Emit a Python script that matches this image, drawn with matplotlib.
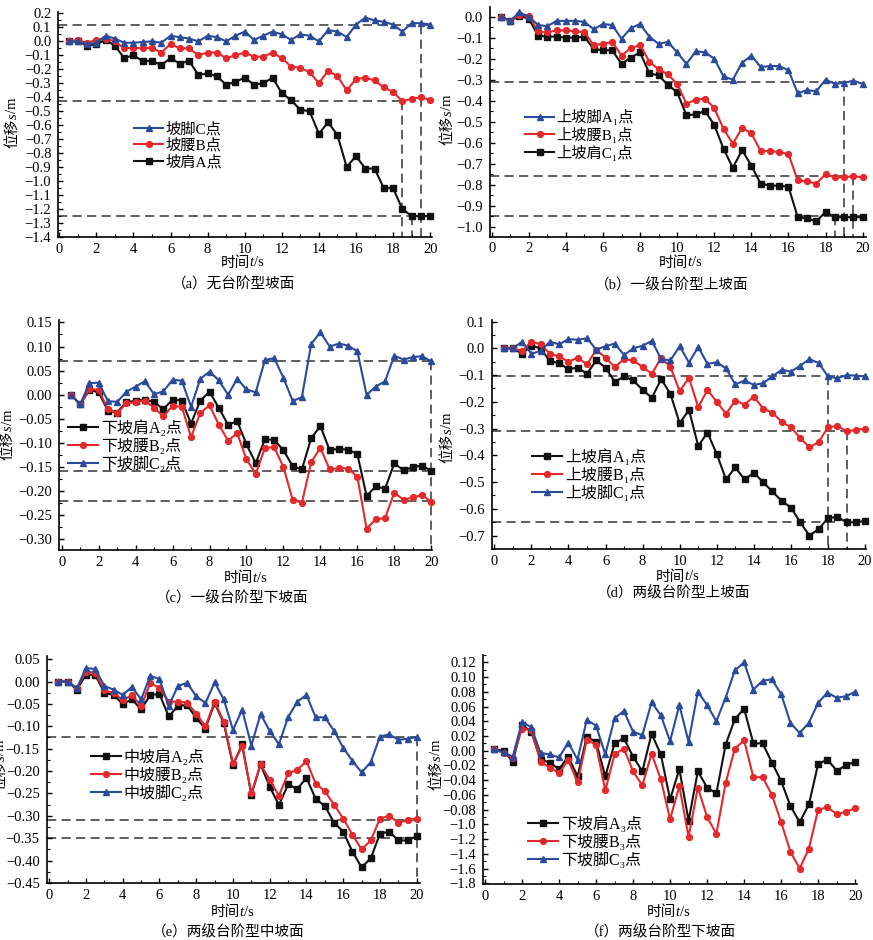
import matplotlib
matplotlib.use("Agg")
import matplotlib.pyplot as plt
from matplotlib.ticker import MultipleLocator, FixedLocator, FixedFormatter, FuncFormatter

plt.rcParams['font.family'] = ['Liberation Serif', 'Noto Sans CJK SC']

W, H = 873, 940
BLUE = '#2a4a9c'
RED = '#e3292b'
BLACK = '#111111'
DASH = '#333333'

t = [0.5, 1.0, 1.5, 2.0, 2.5, 3.0, 3.5, 4.0, 4.5, 5.0,
     5.5, 6.0, 6.5, 7.0, 7.5, 8.0, 8.5, 9.0, 9.5, 10.0,
     10.5, 11.0, 11.5, 12.0, 12.5, 13.0, 13.5, 14.0, 14.5, 15.0,
     15.5, 16.0, 16.5, 17.0, 17.5, 18.0, 18.5, 19.0, 19.5, 20.0]

# (a) 无台阶型坡面
a_C = [0.0, 0.0, -0.02, -0.01, 0.04, 0.02, -0.01, -0.01, -0.005, 0.0,
       -0.01, 0.04, 0.03, 0.02, 0.0, 0.04, 0.03, 0.0, 0.04, 0.07,
       0.01, 0.04, 0.07, 0.05, 0.01, 0.05, 0.04, 0.0, 0.08, 0.07,
       0.03, 0.12, 0.17, 0.15, 0.14, 0.12, 0.07, 0.13, 0.13, 0.12]
a_B = [0.0, 0.01, -0.01, 0.01, 0.02, 0.0, -0.05, -0.045, -0.05, -0.045,
       -0.08, -0.02, -0.05, -0.05, -0.10, -0.08, -0.08, -0.12, -0.10, -0.08,
       -0.11, -0.11, -0.08, -0.12, -0.18, -0.19, -0.22, -0.30, -0.21, -0.25,
       -0.35, -0.27, -0.26, -0.28, -0.33, -0.36, -0.43, -0.41, -0.40, -0.42]
a_A = [0.0, 0.0, -0.03, -0.02, 0.01, -0.03, -0.12, -0.10, -0.14, -0.14,
       -0.17, -0.12, -0.16, -0.14, -0.24, -0.23, -0.25, -0.31, -0.29, -0.26,
       -0.31, -0.30, -0.26, -0.37, -0.42, -0.49, -0.50, -0.66, -0.58, -0.67,
       -0.90, -0.82, -0.91, -0.91, -1.05, -1.05, -1.20, -1.25, -1.25, -1.25]

# (b) 一级台阶型上坡面
b_A1 = [0.0, -0.02, 0.02, 0.0, -0.04, -0.045, -0.02, -0.02, -0.02, -0.025,
        -0.06, -0.035, -0.04, -0.105, -0.055, -0.035, -0.095, -0.13, -0.12, -0.17,
        -0.225, -0.165, -0.17, -0.20, -0.285, -0.30, -0.22, -0.185, -0.24, -0.235,
        -0.235, -0.255, -0.365, -0.35, -0.355, -0.30, -0.32, -0.315, -0.305, -0.32]
b_B1 = [0.0, -0.02, 0.01, 0.005, -0.07, -0.075, -0.065, -0.065, -0.07, -0.075,
        -0.135, -0.13, -0.12, -0.185, -0.15, -0.135, -0.215, -0.25, -0.275, -0.32,
        -0.415, -0.395, -0.39, -0.435, -0.535, -0.605, -0.53, -0.555, -0.64, -0.64,
        -0.645, -0.655, -0.78, -0.785, -0.795, -0.75, -0.765, -0.765, -0.76, -0.765]
b_C1 = [0.0, -0.02, 0.005, -0.01, -0.09, -0.095, -0.095, -0.10, -0.10, -0.095,
        -0.155, -0.16, -0.16, -0.225, -0.195, -0.17, -0.27, -0.28, -0.325, -0.36,
        -0.47, -0.465, -0.45, -0.515, -0.63, -0.72, -0.635, -0.71, -0.795, -0.805,
        -0.805, -0.81, -0.955, -0.96, -0.975, -0.93, -0.955, -0.955, -0.955, -0.955]

# (c) 一级台阶型下坡面
c_A2 = [0.0, -0.02, 0.01, 0.005, -0.033, -0.037, -0.015, -0.013, -0.01, -0.015,
        -0.03, -0.01, -0.012, -0.06, -0.012, 0.006, -0.027, -0.062, -0.055, -0.103,
        -0.142, -0.092, -0.094, -0.115, -0.148, -0.155, -0.09, -0.065, -0.115, -0.112,
        -0.114, -0.123, -0.21, -0.19, -0.195, -0.142, -0.157, -0.15, -0.147, -0.158]
c_B2 = [0.0, -0.02, 0.012, 0.01, -0.03, -0.038, -0.018, -0.015, -0.012, -0.027,
        -0.045, -0.023, -0.025, -0.088, -0.038, -0.022, -0.062, -0.095, -0.08, -0.134,
        -0.164, -0.11, -0.109, -0.15, -0.218, -0.224, -0.14, -0.11, -0.155, -0.152,
        -0.153, -0.17, -0.278, -0.258, -0.256, -0.203, -0.218, -0.213, -0.208, -0.222]
c_C2 = [0.0, -0.02, 0.024, 0.025, -0.013, -0.015, 0.006, 0.017, 0.028, 0.001,
        0.007, 0.031, 0.029, -0.025, 0.033, 0.048, 0.03, 0.0, 0.033, 0.011,
        0.005, 0.072, 0.076, 0.035, -0.013, -0.005, 0.105, 0.13, 0.10, 0.106,
        0.102, 0.09, 0.0, 0.017, 0.028, 0.081, 0.073, 0.078, 0.08, 0.069]

# (d) 两级台阶型上坡面
d_A1 = [0.0, 0.0, -0.02, 0.01, 0.0, -0.048, -0.055, -0.078, -0.072, -0.095,
        -0.045, -0.072, -0.125, -0.105, -0.12, -0.155, -0.185, -0.115, -0.17, -0.28,
        -0.23, -0.365, -0.315, -0.395, -0.49, -0.445, -0.49, -0.465, -0.50, -0.535,
        -0.57, -0.595, -0.65, -0.70, -0.675, -0.635, -0.63, -0.65, -0.65, -0.645]
d_B1 = [0.0, 0.0, -0.01, 0.025, 0.015, -0.02, -0.03, -0.05, -0.035, -0.06,
        -0.005, -0.035, -0.07, -0.04, -0.045, -0.07, -0.095, -0.035, -0.07, -0.16,
        -0.11, -0.22, -0.155, -0.20, -0.245, -0.195, -0.21, -0.18, -0.225, -0.24,
        -0.275, -0.295, -0.335, -0.37, -0.35, -0.295, -0.29, -0.31, -0.305, -0.30]
d_C1 = [0.0, 0.0, 0.025, -0.02, -0.01, 0.025, 0.015, 0.035, 0.032, 0.038,
        -0.005, 0.008, 0.018, -0.025, 0.0, 0.01, 0.028, -0.04, -0.045, 0.008,
        -0.053, 0.005, -0.058, -0.052, -0.075, -0.135, -0.12, -0.137, -0.13, -0.105,
        -0.08, -0.087, -0.065, -0.04, -0.055, -0.105, -0.112, -0.10, -0.102, -0.105]

# (e) 两级台阶型中坡面
e_A2 = [0.0, 0.0, -0.018, 0.015, 0.015, -0.025, -0.03, -0.05, -0.04, -0.062,
        -0.03, -0.028, -0.078, -0.055, -0.052, -0.082, -0.105, -0.048, -0.093, -0.187,
        -0.14, -0.253, -0.185, -0.235, -0.276, -0.23, -0.24, -0.215, -0.262, -0.278,
        -0.315, -0.335, -0.38, -0.415, -0.395, -0.34, -0.335, -0.355, -0.355, -0.345]
e_B2 = [0.0, 0.0, -0.015, 0.022, 0.02, -0.02, -0.025, -0.042, -0.03, -0.055,
        -0.003, -0.015, -0.045, -0.045, -0.047, -0.072, -0.10, -0.045, -0.09, -0.183,
        -0.145, -0.25, -0.185, -0.22, -0.255, -0.205, -0.197, -0.178, -0.228, -0.245,
        -0.275, -0.306, -0.342, -0.375, -0.355, -0.306, -0.30, -0.315, -0.31, -0.306]
e_C2 = [0.0, 0.0, -0.015, 0.03, 0.028, -0.01, -0.018, -0.03, -0.012, -0.04,
        0.013, 0.005, -0.055, -0.01, -0.003, -0.033, -0.048, -0.002, -0.04, -0.108,
        -0.063, -0.143, -0.073, -0.11, -0.14, -0.08, -0.045, -0.03, -0.08, -0.08,
        -0.11, -0.148, -0.177, -0.203, -0.18, -0.123, -0.118, -0.13, -0.128, -0.124]

# (f) 两级台阶型下坡面
f_A3 = [0.002, 0.0, -0.015, 0.035, 0.026, -0.012, -0.016, -0.025, -0.008, -0.035,
        0.019, 0.012, -0.035, 0.01, 0.017, -0.008, -0.028, 0.023, -0.005, -0.066,
        -0.025, -0.095, -0.028, -0.05, -0.058, 0.008, 0.043, 0.057, 0.01, 0.01,
        -0.016, -0.041, -0.075, -0.097, -0.073, -0.018, -0.012, -0.027, -0.02, -0.015]
f_B3 = [0.002, -0.003, -0.01, 0.03, 0.028, -0.015, -0.023, -0.03, -0.013, -0.043,
        0.015, 0.008, -0.054, -0.005, 0.003, -0.028, -0.047, -0.004, -0.039, -0.093,
        -0.048, -0.117, -0.05, -0.09, -0.113, -0.044, 0.003, 0.014, -0.036, -0.036,
        -0.06, -0.097, -0.137, -0.16, -0.133, -0.08, -0.077, -0.086, -0.083, -0.078]
f_C3 = [0.002, -0.002, -0.008, 0.039, 0.032, -0.003, -0.005, -0.009, 0.011, -0.012,
        0.042, 0.034, -0.005, 0.044, 0.054, 0.026, 0.021, 0.066, 0.048, 0.013,
        0.062, 0.012, 0.08, 0.062, 0.04, 0.072, 0.109, 0.12, 0.083, 0.095,
        0.097, 0.077, 0.038, 0.024, 0.038, 0.065, 0.079, 0.072, 0.074, 0.08]
f_yticks = [0.12, 0.10, 0.08, 0.06, 0.04, 0.02, 0.00, -0.02, -0.04, -0.06, -0.08,
            -0.10, -0.12, -0.14, -0.16, -0.18]
f_ylabels = ['0.12', '0.10', '0.08', '0.06', '0.04', '0.02', '0.00', '\u22120.02',
             '\u22120.04', '\u22120.06', '\u22120.08', '\u22121.0', '\u22121.2',
             '\u22121.4', '\u22121.6', '\u22121.8']

# reference dashed guides: (value, x_end) and (x, y_start)
a_h = [(0.12, 20.0), (-0.43, 18.5), (-1.25, 20.0)]
a_v = [(18.5, -0.43), (19.0, -1.25), (19.5, 0.12)]
b_h = [(-0.31, 19.0), (-0.76, 19.5), (-0.95, 20.0)]
b_v = [(19.0, -0.31), (19.5, -0.76), (18.5, -0.95)]
c_h = [(0.07, 20.0), (-0.158, 20.0), (-0.22, 20.0)]
c_v = [(20.0, 0.07)]
d_h = [(-0.105, 20.0), (-0.31, 19.0), (-0.65, 18.5)]
d_v = [(18.0, -0.105), (19.0, -0.31)]
e_h = [(-0.125, 20.0), (-0.31, 20.0), (-0.35, 20.0)]
e_v = [(20.0, -0.125)]

fig = plt.figure(figsize=(W / 100, H / 100), dpi=100)
renderer = fig.canvas.get_renderer()


def add_ax(l, tp, r, b):
    return fig.add_axes([l / W, 1 - b / H, (r - l) / W, (b - tp) / H])


def style(ax, xlim, ylim, ymaj, ymin, fmt):
    ax.set_xlim(*xlim)
    ax.set_ylim(*ylim)
    for s in ['top', 'right']:
        ax.spines[s].set_visible(False)
    for s in ['left', 'bottom']:
        ax.spines[s].set_linewidth(1.2)
    ax.xaxis.set_major_locator(MultipleLocator(2))
    ax.xaxis.set_minor_locator(MultipleLocator(1))
    if ymaj is not None:
        ax.yaxis.set_major_locator(MultipleLocator(ymaj))
        ax.yaxis.set_minor_locator(MultipleLocator(ymin))
        ax.yaxis.set_major_formatter(
            FuncFormatter(lambda v, p: (fmt % v).replace('-', '\u2212')
                          if abs(v) > 1e-9 else fmt % 0))
    ax.tick_params(which='major', direction='in', length=3.5, width=1.0,
                   labelsize=10.5, pad=4)
    ax.tick_params(which='minor', direction='in', length=2, width=0.8)
    ax.tick_params(axis='y', pad=5)
    ax.set_facecolor('none')


def series(ax, y, color, marker, label, ms):
    ax.plot(t, y, color=color, marker=marker, markersize=ms, lw=1.5, label=label,
            clip_on=False)


def guides(ax, hs, vs, x0, ybot):
    for yv, xe in hs:
        ax.plot([x0, xe], [yv, yv], color=DASH, lw=1.1, ls=(0, (6, 3.5)), zorder=1)
    for xv, ys in vs:
        ax.plot([xv, xv], [ys, ybot], color=DASH, lw=1.1, ls=(0, (6, 3.5)), zorder=1)


def legend(ax, order, x, y, fs):
    handles, labels = ax.get_legend_handles_labels()
    hh = [handles[i] for i in order]
    ll = [labels[i] for i in order]
    ax.legend(hh, ll, loc='upper left', bbox_to_anchor=(x / W, 1 - y / H),
              bbox_transform=fig.transFigure, frameon=False, fontsize=fs,
              borderpad=0, borderaxespad=0, handlelength=1.9, handletextpad=0.15,
              labelspacing=0.12)


def ftext(x, y, s, fs):
    fig.text(x / W, 1 - y / H, s, fontsize=fs, ha='center', va='center')


def rich(x, y, pieces, fs, vertical=False):
    """Draw text pieces [(str, italic)] centred at pixel (x, y)."""
    objs = []
    sizes = []
    for s, it in pieces:
        o = fig.text(0, 0, s, fontsize=fs, style='italic' if it else 'normal',
                     rotation=90 if vertical else 0, ha='left', va='center')
        bb = o.get_window_extent(renderer)
        objs.append(o)
        sizes.append(bb.height if vertical else bb.width)
    total = sum(sizes)
    pos = -total / 2
    for o, sz in zip(objs, sizes):
        if vertical:
            o.set_ha('center')
            o.set_va('bottom')
            o.set_position((x / W, (H - y + pos) / H))
        else:
            o.set_position(((x + pos) / W, 1 - y / H))
        pos += sz


YL = [('位移', False), ('s', True), ('/m', False)]
XL = [('时间', False), ('t', True), ('/s', False)]

# ---- (a)
ax = add_ax(58.3, 12, 432, 237)
style(ax, (-0.05, 20.1), (-1.4, 0.21), 0.1, 0.05, '%.1f')
guides(ax, a_h, a_v, -0.05, -1.4)
series(ax, a_A, BLACK, 's', '坡肩A点', 3.8)
series(ax, a_B, RED, 'o', '坡腰B点', 4.2)
series(ax, a_C, BLUE, '^', '坡脚C点', 4.2)
legend(ax, [2, 1, 0], 134, 122, 11)
rich(13, 123, YL, 10.5, True)
rich(242, 263, XL, 10.5)
ftext(234, 285, '（a）无台阶型坡面', 10.5)

# ---- (b)
ax = add_ax(490, 7, 866, 236.7)
style(ax, (-0.09, 20.18), (-1.048, 0.046), 0.1, 0.05, '%.1f')
guides(ax, b_h, b_v, -0.09, -1.048)
series(ax, b_C1, BLACK, 's', '上坡肩C\u2081点', 3.8)
series(ax, b_B1, RED, 'o', '上坡腰B\u2081点', 4.2)
series(ax, b_A1, BLUE, '^', '上坡脚A\u2081点', 4.2)
legend(ax, [2, 1, 0], 525, 109, 11)
rich(448, 120, YL, 10.5, True)
rich(680, 263, XL, 10.5)
ftext(672, 285, '（b）一级台阶型上坡面', 10.5)

# ---- (c)
ax = add_ax(59.3, 320, 432, 550)
style(ax, (-0.13, 20.04), (-0.322, 0.155), 0.05, 0.025, '%.2f')
guides(ax, c_h, c_v, -0.13, -0.322)
series(ax, c_A2, BLACK, 's', '下坡肩A\u2082点', 3.8)
series(ax, c_B2, RED, 'o', '下坡腰B\u2082点', 4.2)
series(ax, c_C2, BLUE, '^', '下坡脚C\u2082点', 4.2)
legend(ax, [0, 1, 2], 68, 420, 11.5)
rich(8, 435, YL, 10.5, True)
rich(245, 578, XL, 10.5)
ftext(232, 598, '（c）一级台阶型下坡面', 10.5)

# ---- (d)
ax = add_ax(491.7, 320, 866, 549)
style(ax, (-0.14, 20.05), (-0.75, 0.106), 0.1, 0.05, '%.1f')
guides(ax, d_h, d_v, -0.14, -0.75)
series(ax, d_A1, BLACK, 's', '上坡肩A\u2081点', 3.8)
series(ax, d_B1, RED, 'o', '上坡腰B\u2081点', 4.2)
series(ax, d_C1, BLUE, '^', '上坡脚C\u2081点', 4.2)
legend(ax, [0, 1, 2], 532, 449, 11.5)
rich(448, 438, YL, 10.5, True)
rich(677, 577, XL, 10.5)
ftext(674, 593, '（d）两级台阶型上坡面', 10.5)

# ---- (e)
ax = add_ax(46.7, 656, 420, 883)
style(ax, (-0.14, 20.18), (-0.45, 0.057), 0.05, 0.025, '%.2f')
guides(ax, e_h, e_v, -0.14, -0.45)
series(ax, e_A2, BLACK, 's', '中坡肩A\u2082点', 3.8)
series(ax, e_B2, RED, 'o', '中坡腰B\u2082点', 4.2)
series(ax, e_C2, BLUE, '^', '中坡脚C\u2082点', 4.2)
legend(ax, [0, 1, 2], 91, 749, 11.5)
rich(1, 765, YL, 10.5, True)
rich(232, 912, XL, 10.5)
ftext(228, 932, '（e）两级台阶型中坡面', 10.5)

# ---- (f)
ax = add_ax(482.7, 655, 857, 884)
style(ax, (-0.125, 20.1), (-0.181, 0.13), None, None, None)
ax.yaxis.set_major_locator(FixedLocator(f_yticks))
ax.yaxis.set_major_formatter(FixedFormatter(f_ylabels))
ax.yaxis.set_minor_locator(MultipleLocator(0.01))
series(ax, f_A3, BLACK, 's', '下坡肩A\u2083点', 3.8)
series(ax, f_B3, RED, 'o', '下坡腰B\u2083点', 4.2)
series(ax, f_C3, BLUE, '^', '下坡脚C\u2083点', 4.2)
legend(ax, [0, 1, 2], 528, 816, 11.5)
rich(437, 765, YL, 10.5, True)
rich(668, 912, XL, 10.5)
ftext(660, 932, '（f）两级台阶型下坡面', 10.5)

fig.savefig('out.png', dpi=100)
